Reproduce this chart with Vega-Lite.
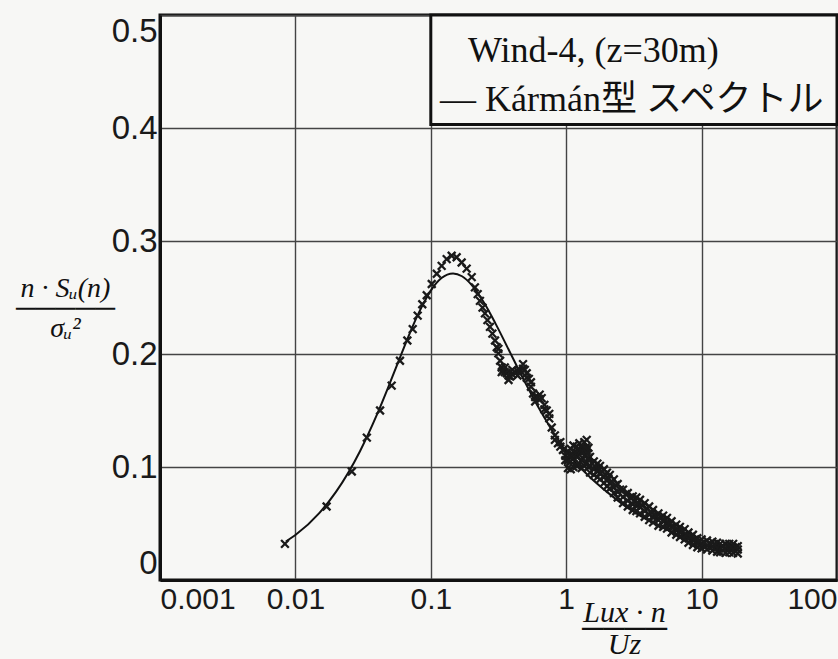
{
  "$schema": "https://vega.github.io/schema/vega-lite/v6.json",
  "width": 677,
  "height": 565,
  "autosize": "none",
  "padding": {"left": 160, "top": 15, "right": 1, "bottom": 79},
  "background": "#f7f7f5",
  "config": {
    "view": {"stroke": "#111", "strokeWidth": 3},
    "axis": {
      "domainColor": "#111",
      "domainWidth": 3,
      "ticks": false,
      "gridColor": "#444",
      "gridWidth": 1.4,
      "labelFont": "Liberation Sans",
      "labelColor": "#1a1a1a",
      "titleFont": "Liberation Serif",
      "titleFontStyle": "italic",
      "titleFontWeight": "normal",
      "titleColor": "#111"
    }
  },
  "datasets": {
    "box": [{"x": 0.1, "x2": 100, "y": 0.403, "y2": 0.5}],
    "notes": [
      {"x": 0.188, "y": 0.4585, "text": "Wind-4, (z=30m)"},
      {"x": 0.117, "y": 0.415, "text": "— Kármán型 スペクトル"}
    ],
    "karman": [
      {"x": 0.0085, "y": 0.034}, {"x": 0.01, "y": 0.0398}, {"x": 0.015, "y": 0.0592},
      {"x": 0.02, "y": 0.0782}, {"x": 0.03, "y": 0.114}, {"x": 0.04, "y": 0.1463},
      {"x": 0.05, "y": 0.1746}, {"x": 0.06, "y": 0.1986}, {"x": 0.07, "y": 0.2185},
      {"x": 0.08, "y": 0.2344}, {"x": 0.09, "y": 0.2467}, {"x": 0.1, "y": 0.2561},
      {"x": 0.12, "y": 0.2672}, {"x": 0.146, "y": 0.2713}, {"x": 0.17, "y": 0.2688},
      {"x": 0.2, "y": 0.2612}, {"x": 0.25, "y": 0.2444}, {"x": 0.3, "y": 0.2271},
      {"x": 0.4, "y": 0.1973}, {"x": 0.5, "y": 0.1742}, {"x": 0.6, "y": 0.1564},
      {"x": 0.7, "y": 0.1424}, {"x": 0.8, "y": 0.1309}, {"x": 1.0, "y": 0.1136},
      {"x": 1.5, "y": 0.091}, {"x": 2, "y": 0.078}, {"x": 3, "y": 0.062},
      {"x": 4, "y": 0.053}, {"x": 5, "y": 0.047}, {"x": 7, "y": 0.039},
      {"x": 10, "y": 0.032}, {"x": 14, "y": 0.027}
    ],
    "measured": [
      {"x": 0.00837, "y": 0.032}, {"x": 0.017, "y": 0.065}, {"x": 0.0261, "y": 0.096},
      {"x": 0.0337, "y": 0.126}, {"x": 0.0422, "y": 0.15}, {"x": 0.0514, "y": 0.172},
      {"x": 0.0592, "y": 0.194}, {"x": 0.0671, "y": 0.212}, {"x": 0.0735, "y": 0.222},
      {"x": 0.08, "y": 0.234}, {"x": 0.0865, "y": 0.244}, {"x": 0.0933, "y": 0.252},
      {"x": 0.1016, "y": 0.262}, {"x": 0.1107, "y": 0.271}, {"x": 0.1203, "y": 0.278},
      {"x": 0.131, "y": 0.284}, {"x": 0.1426, "y": 0.287}, {"x": 0.1552, "y": 0.2856},
      {"x": 0.169, "y": 0.281}, {"x": 0.184, "y": 0.2756}, {"x": 0.2005, "y": 0.268},
      {"x": 0.2118, "y": 0.259}, {"x": 0.222, "y": 0.253}, {"x": 0.2306, "y": 0.247},
      {"x": 0.241, "y": 0.241}, {"x": 0.2512, "y": 0.236}, {"x": 0.262, "y": 0.23},
      {"x": 0.2735, "y": 0.224}, {"x": 0.285, "y": 0.218}, {"x": 0.298, "y": 0.212},
      {"x": 0.307, "y": 0.206}, {"x": 0.3155, "y": 0.2005}, {"x": 0.325, "y": 0.194},
      {"x": 0.334, "y": 0.188}, {"x": 0.341, "y": 0.1855}, {"x": 0.352, "y": 0.184},
      {"x": 0.364, "y": 0.183}, {"x": 0.375, "y": 0.181}, {"x": 0.385, "y": 0.18},
      {"x": 0.4, "y": 0.182}, {"x": 0.419, "y": 0.184}, {"x": 0.437, "y": 0.185},
      {"x": 0.456, "y": 0.1855}, {"x": 0.48, "y": 0.187}, {"x": 0.495, "y": 0.186},
      {"x": 0.511, "y": 0.183}, {"x": 0.53, "y": 0.178}, {"x": 0.549, "y": 0.171},
      {"x": 0.569, "y": 0.165}, {"x": 0.59, "y": 0.162}, {"x": 0.615, "y": 0.162},
      {"x": 0.637, "y": 0.16}, {"x": 0.659, "y": 0.161}, {"x": 0.69, "y": 0.155},
      {"x": 0.718, "y": 0.15}, {"x": 0.75, "y": 0.143}, {"x": 0.782, "y": 0.135},
      {"x": 0.825, "y": 0.128}, {"x": 0.869, "y": 0.121}, {"x": 0.905, "y": 0.118},
      {"x": 0.946, "y": 0.115}, {"x": 0.985, "y": 0.11}, {"x": 1.03, "y": 0.106},
      {"x": 1.08, "y": 0.105}, {"x": 1.13, "y": 0.108}, {"x": 1.196, "y": 0.109},
      {"x": 1.25, "y": 0.111}, {"x": 1.3, "y": 0.106}, {"x": 1.36, "y": 0.11},
      {"x": 1.417, "y": 0.115}, {"x": 1.46, "y": 0.108}, {"x": 1.5, "y": 0.101},
      {"x": 1.6, "y": 0.098}, {"x": 1.7, "y": 0.096}, {"x": 1.778, "y": 0.0945},
      {"x": 1.9, "y": 0.091}, {"x": 2.0, "y": 0.088}, {"x": 2.1, "y": 0.0857},
      {"x": 2.25, "y": 0.082}, {"x": 2.4, "y": 0.078}, {"x": 2.63, "y": 0.0733},
      {"x": 2.85, "y": 0.07}, {"x": 3.1, "y": 0.067}, {"x": 3.3, "y": 0.066},
      {"x": 3.51, "y": 0.0645}, {"x": 3.8, "y": 0.061}, {"x": 4.1, "y": 0.058},
      {"x": 4.38, "y": 0.0557}, {"x": 4.8, "y": 0.053}, {"x": 5.2, "y": 0.052},
      {"x": 5.55, "y": 0.0504}, {"x": 6.0, "y": 0.047}, {"x": 6.5, "y": 0.044},
      {"x": 6.92, "y": 0.0424}, {"x": 7.5, "y": 0.04}, {"x": 8.0, "y": 0.037},
      {"x": 8.63, "y": 0.0353}, {"x": 9.3, "y": 0.033}, {"x": 10.0, "y": 0.032},
      {"x": 10.96, "y": 0.0309}, {"x": 12.0, "y": 0.03}, {"x": 13.0, "y": 0.029},
      {"x": 13.7, "y": 0.0283}, {"x": 15.0, "y": 0.028}, {"x": 16.0, "y": 0.0285},
      {"x": 17.1, "y": 0.0283}, {"x": 18.5, "y": 0.027},
      {"x": 0.3155, "y": 0.2045}, {"x": 0.334, "y": 0.184}, {"x": 0.352, "y": 0.188},
      {"x": 0.375, "y": 0.177}, {"x": 0.4, "y": 0.186}, {"x": 0.437, "y": 0.181},
      {"x": 0.48, "y": 0.191}, {"x": 0.511, "y": 0.179}, {"x": 0.549, "y": 0.175},
      {"x": 0.59, "y": 0.158}, {"x": 0.637, "y": 0.164}, {"x": 0.69, "y": 0.151},
      {"x": 0.75, "y": 0.147}, {"x": 0.825, "y": 0.124}, {"x": 0.905, "y": 0.122},
      {"x": 0.985, "y": 0.106},
      {"x": 1.03, "y": 0.114}, {"x": 1.08, "y": 0.116}, {"x": 1.13, "y": 0.119},
      {"x": 1.196, "y": 0.118}, {"x": 1.25, "y": 0.121}, {"x": 1.3, "y": 0.117},
      {"x": 1.36, "y": 0.122}, {"x": 1.417, "y": 0.124}, {"x": 1.46, "y": 0.117},
      {"x": 1.5, "y": 0.109}, {"x": 1.6, "y": 0.105}, {"x": 1.7, "y": 0.103},
      {"x": 1.778, "y": 0.101}, {"x": 1.9, "y": 0.098}, {"x": 2.0, "y": 0.095},
      {"x": 2.1, "y": 0.093}, {"x": 2.25, "y": 0.089}, {"x": 2.4, "y": 0.085},
      {"x": 2.63, "y": 0.08}, {"x": 2.85, "y": 0.077}, {"x": 3.1, "y": 0.074},
      {"x": 3.3, "y": 0.073}, {"x": 3.51, "y": 0.071}, {"x": 3.8, "y": 0.068},
      {"x": 4.1, "y": 0.065}, {"x": 4.38, "y": 0.062}, {"x": 4.8, "y": 0.059},
      {"x": 5.2, "y": 0.057}, {"x": 5.55, "y": 0.055}, {"x": 6.0, "y": 0.052},
      {"x": 6.5, "y": 0.049}, {"x": 6.92, "y": 0.047}, {"x": 7.5, "y": 0.045},
      {"x": 8.0, "y": 0.042}, {"x": 8.63, "y": 0.04}, {"x": 9.3, "y": 0.037},
      {"x": 10.0, "y": 0.036}, {"x": 10.96, "y": 0.035}, {"x": 12.0, "y": 0.034},
      {"x": 13.0, "y": 0.033}, {"x": 13.7, "y": 0.032}, {"x": 15.0, "y": 0.032},
      {"x": 16.0, "y": 0.032}, {"x": 17.1, "y": 0.032}, {"x": 18.5, "y": 0.03},
      {"x": 1.03, "y": 0.099}, {"x": 1.08, "y": 0.098}, {"x": 1.13, "y": 0.1},
      {"x": 1.196, "y": 0.101}, {"x": 1.25, "y": 0.103}, {"x": 1.3, "y": 0.099},
      {"x": 1.36, "y": 0.101}, {"x": 1.417, "y": 0.104}, {"x": 1.46, "y": 0.1},
      {"x": 1.5, "y": 0.095}, {"x": 1.6, "y": 0.093}, {"x": 1.7, "y": 0.091},
      {"x": 1.778, "y": 0.089}, {"x": 1.9, "y": 0.086}, {"x": 2.0, "y": 0.083},
      {"x": 2.1, "y": 0.081}, {"x": 2.25, "y": 0.077}, {"x": 2.4, "y": 0.073},
      {"x": 2.63, "y": 0.068}, {"x": 2.85, "y": 0.065}, {"x": 3.1, "y": 0.062},
      {"x": 3.3, "y": 0.061}, {"x": 3.51, "y": 0.059}, {"x": 3.8, "y": 0.056},
      {"x": 4.1, "y": 0.053}, {"x": 4.38, "y": 0.051}, {"x": 4.8, "y": 0.048},
      {"x": 5.2, "y": 0.047}, {"x": 5.55, "y": 0.0455}, {"x": 6.0, "y": 0.042},
      {"x": 6.5, "y": 0.04}, {"x": 6.92, "y": 0.038}, {"x": 7.5, "y": 0.036},
      {"x": 8.0, "y": 0.033}, {"x": 8.63, "y": 0.031}, {"x": 9.3, "y": 0.029},
      {"x": 10.0, "y": 0.028}, {"x": 10.96, "y": 0.027}, {"x": 12.0, "y": 0.026},
      {"x": 13.0, "y": 0.025}, {"x": 13.7, "y": 0.0245}, {"x": 15.0, "y": 0.024},
      {"x": 16.0, "y": 0.0245}, {"x": 17.1, "y": 0.024}, {"x": 18.5, "y": 0.0235},
      {"x": 1.05, "y": 0.11}, {"x": 1.1, "y": 0.112}, {"x": 1.16, "y": 0.113},
      {"x": 1.22, "y": 0.115}, {"x": 1.28, "y": 0.114}, {"x": 1.33, "y": 0.113},
      {"x": 1.39, "y": 0.117}, {"x": 1.44, "y": 0.112},
      {"x": 1.55, "y": 0.103}, {"x": 1.65, "y": 0.1}, {"x": 1.74, "y": 0.098},
      {"x": 1.84, "y": 0.096}, {"x": 1.95, "y": 0.093}, {"x": 2.05, "y": 0.09},
      {"x": 2.17, "y": 0.087}, {"x": 2.32, "y": 0.084}, {"x": 2.5, "y": 0.08},
      {"x": 2.74, "y": 0.076}, {"x": 2.97, "y": 0.073}, {"x": 3.2, "y": 0.07},
      {"x": 3.4, "y": 0.068}, {"x": 3.65, "y": 0.066}, {"x": 3.95, "y": 0.063},
      {"x": 4.25, "y": 0.06}, {"x": 4.6, "y": 0.057}, {"x": 5.0, "y": 0.055},
      {"x": 5.38, "y": 0.053}, {"x": 5.8, "y": 0.05}, {"x": 6.25, "y": 0.047},
      {"x": 6.7, "y": 0.045}, {"x": 7.2, "y": 0.043}, {"x": 7.75, "y": 0.04},
      {"x": 8.3, "y": 0.038}, {"x": 8.95, "y": 0.036}, {"x": 9.65, "y": 0.034},
      {"x": 10.5, "y": 0.033}, {"x": 11.5, "y": 0.032}, {"x": 12.5, "y": 0.031},
      {"x": 14.3, "y": 0.03}, {"x": 15.5, "y": 0.03}, {"x": 16.5, "y": 0.029},
      {"x": 17.8, "y": 0.029}
    ]
  },
  "encoding": {
    "x": {
      "field": "x",
      "type": "quantitative",
      "scale": {"type": "log", "domain": [0.001, 100], "nice": false},
      "axis": {
        "values": [0.001, 0.01, 0.1, 1, 10, 100],
        "labelExpr": "format(datum.value, '~g')",
        "labelFontSize": 30,
        "labelPadding": 4,
        "labelFlush": true,
        "grid": true,
        "title": ["Lux · n", "────", "Uz"],
        "titleFontSize": 30,
        "titleAlign": "center",
        "titleBaseline": "top",
        "titleAngle": 0,
        "titleX": 464,
        "titleY": 17,
        "titleLineHeight": 16
      }
    },
    "y": {
      "field": "y",
      "type": "quantitative",
      "scale": {"domain": [0, 0.5], "nice": false, "zero": true},
      "axis": {
        "values": [0, 0.1, 0.2, 0.3, 0.4, 0.5],
        "labelExpr": "format(datum.value, '~g')",
        "labelFontSize": 33,
        "labelPadding": 3,
        "labelFlush": true,
        "grid": true,
        "title": ["n · Sᵤ(n)", "─────", "σᵤ²"],
        "titleFontSize": 28,
        "titleAlign": "center",
        "titleBaseline": "top",
        "titleAngle": 0,
        "titleX": -95,
        "titleY": 259,
        "titleLineHeight": 20
      }
    }
  },
  "layer": [
    {
      "data": {"name": "box"},
      "mark": {"type": "rect", "fill": "#f7f7f5", "stroke": "#111", "strokeWidth": 3},
      "encoding": {"x2": {"field": "x2"}, "y2": {"field": "y2"}}
    },
    {
      "data": {"name": "karman"},
      "mark": {"type": "line", "color": "#111", "strokeWidth": 2, "interpolate": "monotone"},
      "encoding": {}
    },
    {
      "data": {"name": "measured"},
      "mark": {
        "type": "point",
        "shape": "M-1,-1L1,1M-1,1L1,-1",
        "filled": false,
        "stroke": "#1a1a1a",
        "strokeWidth": 2.3,
        "size": 60,
        "opacity": 1
      },
      "encoding": {}
    },
    {
      "data": {"name": "notes"},
      "mark": {
        "type": "text",
        "align": "left",
        "baseline": "alphabetic",
        "font": "Liberation Serif, Noto Sans CJK JP",
        "fontSize": 36,
        "color": "#111"
      },
      "encoding": {"text": {"field": "text"}}
    }
  ]
}
